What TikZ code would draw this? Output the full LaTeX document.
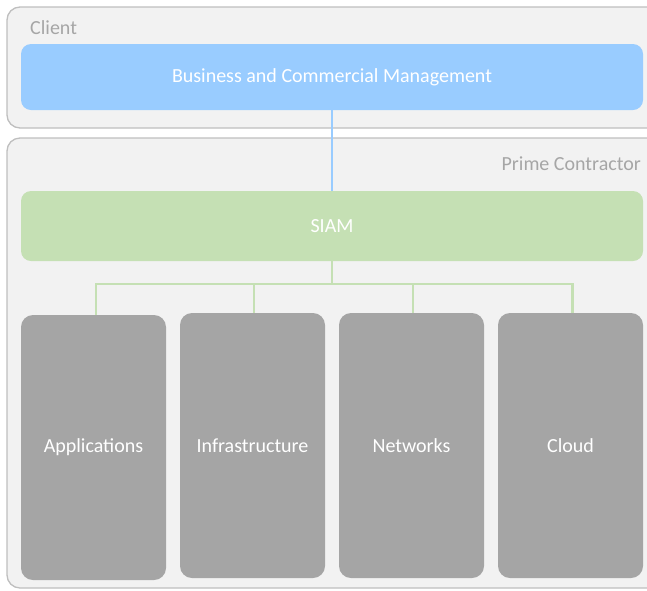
\documentclass[tikz,border=0pt]{standalone}
\usepackage{fontspec}
\setmainfont{Carlito}
\definecolor{panelfill}{HTML}{F2F2F2}
\definecolor{panelline}{HTML}{BFBFBF}
\definecolor{labelgray}{HTML}{A6A6A6}
\definecolor{bluebox}{HTML}{99CCFF}
\definecolor{greenbox}{HTML}{C5E0B4}
\definecolor{graybox}{HTML}{A5A5A5}
\tikzset{
  panel/.style={draw=panelline, fill=panelfill, line width=1.3pt, rounded corners=13pt},
  bar/.style={rounded corners=10pt, inner sep=0pt, text=white, font=\fontsize{20}{23}\selectfont},
  tower/.style={fill=graybox, rounded corners=12pt, inner sep=0pt, text=white, minimum width=145pt, minimum height=265pt, font=\fontsize{20}{23}\selectfont},
  panellabel/.style={text=labelgray, font=\fontsize{20}{23}\selectfont, inner sep=0pt},
  blueline/.style={draw=bluebox, line width=2pt},
  greenline/.style={draw=greenbox, line width=2.2pt}
}
\begin{document}
\begin{tikzpicture}[x=1pt,y=-1pt]
\useasboundingbox (0,0) rectangle (647,590);
\clip (0,0) rectangle (647,590);
\fill[white] (0,0) rectangle (647,590);
% panels
\draw[panel] (7,7) rectangle (670,128);
\draw[panel] (7,138) rectangle (670,588);
\node[panellabel, anchor=west] (clientlbl) at (30,28) {Client};
\node[panellabel, anchor=east] (primelbl) at (641,164) {Prime Contractor};
% bars
\node[bar, fill=bluebox, minimum width=622pt, minimum height=66pt] (bcm) at (332,77) {\raisebox{-1.5pt}{Business and Commercial Management}};
\node[bar, fill=greenbox, minimum width=622pt, minimum height=70pt] (siam) at (332,226) {\raisebox{-1pt}{SIAM}};
% towers
\node[tower] (app) at (93.5,447.5) {\raisebox{-1pt}{Applications}};
\node[tower] (inf) at (252.5,445.5) {Infrastructure};
\node[tower] (net) at (411.5,445.5) {Networks};
\node[tower] (cld) at (570.5,445.5) {Cloud};
% connectors
\draw[blueline] (bcm.south) -- (siam.north);
\coordinate (hub) at (332,284);
\draw[greenline] (siam.south) -- (hub);
\draw[greenline] (app.north -| 96,0) |- (hub);
\draw[greenline] (cld.north -| 572.5,0) |- (hub);
\draw[greenline] (inf.north -| 254,0) -- (254,284);
\draw[greenline] (net.north -| 413,0) -- (413,284);
\end{tikzpicture}
\end{document}
